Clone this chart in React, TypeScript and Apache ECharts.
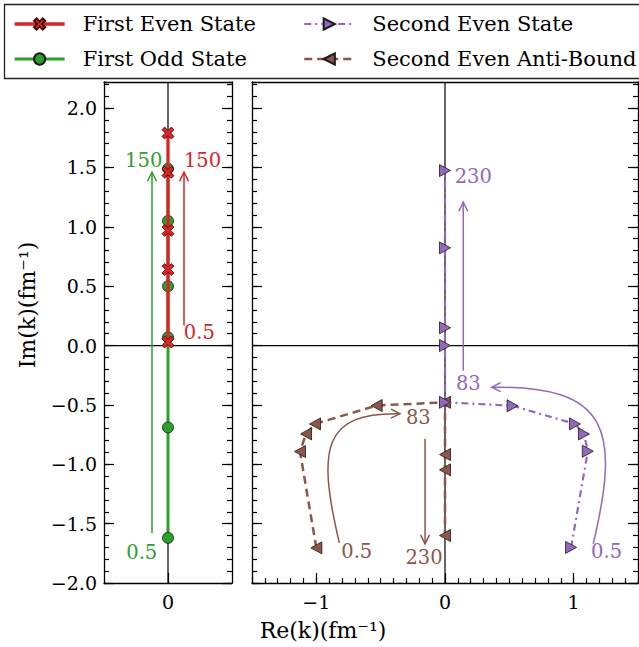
import React, { useEffect, useRef } from 'react';
import * as echarts from 'echarts';

// ---------- data ----------
const FIRST_EVEN_X = [0, 0, 0, 0, 0];
const FIRST_EVEN_Y = [1.79, 1.46, 0.97, 0.64, 0.03];
const FIRST_ODD_X = [0, 0, 0, 0, 0, 0];
const FIRST_ODD_Y = [1.49, 1.05, 0.5, 0.07, -0.69, -1.62];
const SECOND_EVEN_X = [0.98, 1.11, 1.08, 1.01, 0.525, 0, 0, 0, 0, 0];
const SECOND_EVEN_Y = [-1.70, -0.89, -0.745, -0.66, -0.507, -0.478, 0.0, 0.15, 0.823, 1.474];
const ANTI_BOUND_X = [-1.0, -1.127, -1.08, -1.01, -0.531, 0, 0, 0, 0];
const ANTI_BOUND_Y = [-1.704, -0.893, -0.744, -0.66, -0.505, -0.478, -0.918, -1.047, -1.60];

const Y_TICKS = [-2, -1.5, -1, -0.5, 0, 0.5, 1, 1.5, 2];
const X_TICKS_LEFT = [0];
const X_TICKS_RIGHT = [-1, 0, 1];
const Y_MIN = -2;
const Y_MAX = 2.22;
const XL_MIN = -0.5;
const XL_MAX = 0.5;
const XR_MIN = -1.5;
const XR_MAX = 1.5;

const SERIES_NAMES = ['First Even State', 'First Odd State', 'Second Even State', 'Second Even Anti-Bound'];

// annotation arrows: [start, ctrl1, ctrl2, end] (bezier) or [start, end]
const LEFT_ARROWS = [
  { color: 'green', pts: [[-0.125, -1.58], [-0.125, 1.46]] },
  { color: 'red', pts: [[0.125, 0.168], [0.125, 1.46]] },
];
const RIGHT_ARROWS = [
  { color: 'brown', pts: [[-0.821, -1.662], [-0.997, -0.857], [-0.946, -0.562], [-0.35, -0.575]] },
  { color: 'brown', pts: [[-0.155, -0.786], [-0.155, -1.671]] },
  { color: 'purple', pts: [[1.152, -1.671], [1.36, -0.716], [1.282, -0.337], [0.363, -0.351]] },
  { color: 'purple', pts: [[0.142, -0.211], [0.142, 1.207]] },
];
const LEFT_LABELS = [
  { text: '150', color: 'green', at: [-0.19, 1.56] },
  { text: '0.5', color: 'green', at: [-0.205, -1.74] },
  { text: '150', color: 'red', at: [0.27, 1.56] },
  { text: '0.5', color: 'red', at: [0.245, 0.112] },
];
const RIGHT_LABELS = [
  { text: '0.5', color: 'brown', at: [-0.686, -1.733] },
  { text: '83', color: 'brown', at: [-0.207, -0.609] },
  { text: '230', color: 'brown', at: [-0.163, -1.789] },
  { text: '0.5', color: 'purple', at: [1.256, -1.733] },
  { text: '83', color: 'purple', at: [0.181, -0.323] },
  { text: '230', color: 'purple', at: [0.22, 1.424] },
];

// ---------- styles ----------
const COLORS: Record<string, string> = {
  red: '#d62728',
  green: '#2ca02c',
  purple: '#9467bd',
  brown: '#8c564b',
};
const FONT = '"DejaVu Serif", serif';
const X_PATH = 'path://M0,2.2 L2.2,0 L5,2.8 L7.8,0 L10,2.2 L7.2,5 L10,7.8 L7.8,10 L5,7.2 L2.2,10 L0,7.8 L2.8,5 Z';

const fmtNum = (v: number, d: number) => v.toFixed(d).replace('-', '\u2212');
const zip = (xs: number[], ys: number[]) => xs.map((x, i) => [x, ys[i]]);

function renderArrows(arrows: { color: string; pts: number[][] }[]) {
  return (params: any, api: any) => {
    const a = arrows[params.dataIndex];
    const p = a.pts.map((q) => api.coord(q));
    const [s, c1, c2, e] = p.length === 4 ? p : [p[0], p[0], p[1], p[1]];
    let dx = e[0] - c2[0];
    let dy = e[1] - c2[1];
    if (Math.hypot(dx, dy) < 1e-6) {
      dx = e[0] - s[0];
      dy = e[1] - s[1];
    }
    const len = Math.hypot(dx, dy) || 1;
    const ux = dx / len;
    const uy = dy / len;
    const hl = 9;
    const hw = 4.5;
    const bx = e[0] - ux * hl;
    const by = e[1] - uy * hl;
    const stroke = COLORS[a.color];
    return {
      type: 'group',
      children: [
        {
          type: 'bezierCurve',
          shape: { x1: s[0], y1: s[1], cpx1: c1[0], cpy1: c1[1], cpx2: c2[0], cpy2: c2[1], x2: e[0], y2: e[1] },
          style: { stroke, lineWidth: 1.5, fill: null },
        },
        {
          type: 'polyline',
          shape: { points: [[bx - uy * hw, by + ux * hw], [e[0], e[1]], [bx + uy * hw, by - ux * hw]] },
          style: { stroke, lineWidth: 1.5, fill: null },
        },
      ],
    };
  };
}

function renderLabels(labels: { text: string; color: string; at: number[] }[]) {
  return (params: any, api: any) => {
    const l = labels[params.dataIndex];
    const c = api.coord(l.at);
    return {
      type: 'text',
      x: c[0],
      y: c[1],
      style: {
        text: l.text,
        fill: COLORS[l.color],
        fontFamily: FONT,
        fontSize: 19.5,
        align: 'center',
        verticalAlign: 'middle',
      },
    };
  };
}

const tickLine = { color: '#000', width: 1.2 };
const axisLineOn = { show: true, onZero: false, lineStyle: { color: '#000', width: 1.3 } };
const axisLineOff = { show: false, onZero: false };

function yAxesFor(gridIndex: number, labels: boolean) {
  const base = { type: 'value', gridIndex, min: Y_MIN, max: Y_MAX, splitLine: { show: false } };
  return [
    {
      ...base,
      position: 'left',
      axisLine: axisLineOn,
      axisTick: { show: true, inside: true, length: 10, customValues: Y_TICKS, lineStyle: tickLine },
      axisLabel: {
        show: labels,
        customValues: Y_TICKS,
        formatter: (v: number) => fmtNum(v, 1),
        fontFamily: FONT,
        fontSize: 19,
        color: '#000',
        margin: 7,
      },
    },
    {
      ...base,
      position: 'left',
      interval: 0.1,
      axisLine: axisLineOff,
      axisTick: { show: true, inside: true, length: 5, lineStyle: tickLine },
      axisLabel: { show: false },
    },
    {
      ...base,
      position: 'right',
      axisLine: axisLineOn,
      axisTick: { show: true, inside: true, length: 10, customValues: Y_TICKS, lineStyle: tickLine },
      axisLabel: { show: false },
    },
    {
      ...base,
      position: 'right',
      interval: 0.1,
      axisLine: axisLineOff,
      axisTick: { show: true, inside: true, length: 5, lineStyle: tickLine },
      axisLabel: { show: false },
    },
  ];
}

function xLabel() {
  return {
    formatter: (v: number) => fmtNum(v, 0),
    fontFamily: FONT,
    fontSize: 19,
    color: '#000',
    margin: 9,
  };
}

export default function App() {
  const ref = useRef<HTMLDivElement>(null);
  useEffect(() => {
    if (!ref.current) return;
    const chart = echarts.init(ref.current, undefined, { renderer: 'svg' });

    const zeroStyle = { color: '#000', width: 1.2 };
    const zeroSeries = (xi: number, yi: number, data: number[][]) => ({
      type: 'line',
      xAxisIndex: xi,
      yAxisIndex: yi,
      data,
      symbol: 'none',
      silent: true,
      lineStyle: zeroStyle,
      z: 1,
    });

    const legendCommon = {
      orient: 'vertical', top: 12, padding: 0,
      itemWidth: 50, itemHeight: 14, itemGap: 11, selectedMode: false,
      lineStyle: { width: 'inherit' },
      textStyle: { fontFamily: FONT, fontSize: 21, lineHeight: 24, color: '#000', padding: [0, 0, 0, 13] },
    };

    const option: any = {
      animation: false,
      backgroundColor: '#fff',
      grid: [
        { left: 104, top: 82, width: 128, height: 501, containLabel: false },
        { left: 252, top: 82, width: 386, height: 501, containLabel: false },
      ],
      xAxis: [
        {
          type: 'value', gridIndex: 0, position: 'bottom', min: XL_MIN, max: XL_MAX,
          splitLine: { show: false }, axisLine: axisLineOn,
          axisTick: { show: true, inside: true, length: 10, customValues: X_TICKS_LEFT, lineStyle: tickLine },
          axisLabel: { ...xLabel(), customValues: X_TICKS_LEFT },
        },
        {
          type: 'value', gridIndex: 0, position: 'top', min: XL_MIN, max: XL_MAX,
          splitLine: { show: false }, axisLine: axisLineOn, axisTick: { show: false }, axisLabel: { show: false },
        },
        {
          type: 'value', gridIndex: 1, position: 'bottom', min: XR_MIN, max: XR_MAX,
          splitLine: { show: false }, axisLine: axisLineOn,
          axisTick: { show: true, inside: true, length: 10, customValues: X_TICKS_RIGHT, lineStyle: tickLine },
          axisLabel: { ...xLabel(), customValues: X_TICKS_RIGHT },
        },
        {
          type: 'value', gridIndex: 1, position: 'bottom', min: XR_MIN, max: XR_MAX, interval: 0.1,
          splitLine: { show: false }, axisLine: axisLineOff,
          axisTick: { show: true, inside: true, length: 5, lineStyle: tickLine }, axisLabel: { show: false },
        },
        {
          type: 'value', gridIndex: 1, position: 'top', min: XR_MIN, max: XR_MAX,
          splitLine: { show: false }, axisLine: axisLineOn, axisTick: { show: false }, axisLabel: { show: false },
        },
      ],
      yAxis: [...yAxesFor(0, true), ...yAxesFor(1, false)],
      legend: [
        { ...legendCommon, data: [SERIES_NAMES[0], SERIES_NAMES[1]], left: 13 },
        { ...legendCommon, data: [SERIES_NAMES[2], SERIES_NAMES[3]], left: 303 },
      ],
      graphic: [
        {
          type: 'rect', z: 0, silent: true,
          shape: { x: 4.5, y: 4.5, width: 650, height: 74 },
          style: { fill: '#fff', stroke: '#222', lineWidth: 1.3 },
        },
        {
          type: 'text', silent: true, x: 323, y: 630,
          style: { text: 'Re(k)(fm\u207B\u00B9)', fontFamily: FONT, fontSize: 22, fill: '#000', align: 'center', verticalAlign: 'middle' },
        },
        {
          type: 'text', silent: true, x: 27, y: 305, rotation: Math.PI / 2,
          style: { text: 'Im(k)(fm\u207B\u00B9)', fontFamily: FONT, fontSize: 22, fill: '#000', align: 'center', verticalAlign: 'middle' },
        },
      ],
      series: [
        zeroSeries(0, 0, [[0, Y_MIN], [0, Y_MAX]]),
        zeroSeries(0, 0, [[XL_MIN, 0], [XL_MAX, 0]]),
        zeroSeries(2, 4, [[0, Y_MIN], [0, Y_MAX]]),
        zeroSeries(2, 4, [[XR_MIN, 0], [XR_MAX, 0]]),
        {
          name: SERIES_NAMES[1], type: 'line', xAxisIndex: 0, yAxisIndex: 0, z: 2,
          data: zip(FIRST_ODD_X, FIRST_ODD_Y),
          symbol: 'circle', symbolSize: 11,
          lineStyle: { color: COLORS.green, width: 3 },
          itemStyle: { color: COLORS.green, borderColor: '#1a1a1a', borderWidth: 0.8 },
        },
        {
          name: SERIES_NAMES[0], type: 'line', xAxisIndex: 0, yAxisIndex: 0, z: 3,
          data: zip(FIRST_EVEN_X, FIRST_EVEN_Y),
          symbol: X_PATH, symbolSize: 12,
          lineStyle: { color: COLORS.red, width: 3.3 },
          itemStyle: { color: COLORS.red, borderColor: '#4a0000', borderWidth: 0.8 },
        },
        {
          name: SERIES_NAMES[3], type: 'line', xAxisIndex: 2, yAxisIndex: 4, z: 2,
          data: zip(ANTI_BOUND_X, ANTI_BOUND_Y),
          symbol: 'triangle', symbolRotate: 90, symbolSize: [12, 11],
          lineStyle: { color: COLORS.brown, width: 2.5, type: [8, 5] },
          itemStyle: { color: COLORS.brown, borderColor: '#1a1a1a', borderWidth: 0.8 },
        },
        {
          name: SERIES_NAMES[2], type: 'line', xAxisIndex: 2, yAxisIndex: 4, z: 3,
          data: zip(SECOND_EVEN_X, SECOND_EVEN_Y),
          symbol: 'triangle', symbolRotate: -90, symbolSize: [12, 11],
          lineStyle: { color: COLORS.purple, width: 2.2, type: [7, 4, 2, 4] },
          itemStyle: { color: COLORS.purple, borderColor: '#1a1a1a', borderWidth: 0.8 },
        },
        {
          type: 'custom', xAxisIndex: 0, yAxisIndex: 0, z: 4, silent: true, clip: false,
          data: LEFT_ARROWS.map((a) => a.pts[0]), encode: { x: 0, y: 1 },
          renderItem: renderArrows(LEFT_ARROWS),
        },
        {
          type: 'custom', xAxisIndex: 2, yAxisIndex: 4, z: 4, silent: true, clip: false,
          data: RIGHT_ARROWS.map((a) => a.pts[0]), encode: { x: 0, y: 1 },
          renderItem: renderArrows(RIGHT_ARROWS),
        },
        {
          type: 'custom', xAxisIndex: 0, yAxisIndex: 0, z: 5, silent: true, clip: false,
          data: LEFT_LABELS.map((l) => l.at), encode: { x: 0, y: 1 },
          renderItem: renderLabels(LEFT_LABELS),
        },
        {
          type: 'custom', xAxisIndex: 2, yAxisIndex: 4, z: 5, silent: true, clip: false,
          data: RIGHT_LABELS.map((l) => l.at), encode: { x: 0, y: 1 },
          renderItem: renderLabels(RIGHT_LABELS),
        },
      ],
    };
    chart.setOption(option);
    return () => chart.dispose();
  }, []);
  return <div ref={ref} style={{ position: 'fixed', left: 0, top: 0, width: 639, height: 647 }} />;
}
